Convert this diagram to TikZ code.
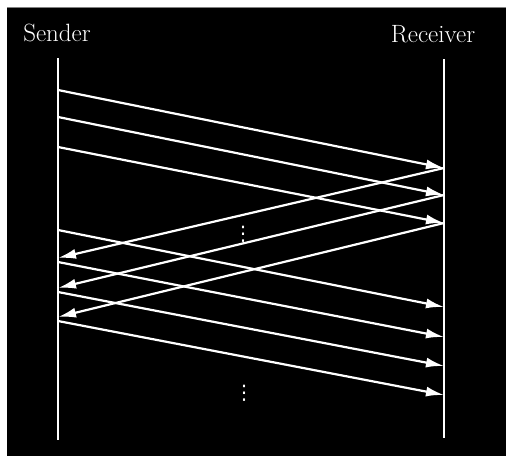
\documentclass[tikz,border=0pt]{standalone}
\usepackage{fontspec}
\newfontfamily\symfont{DejaVu Sans}
\usetikzlibrary{arrows.meta}
\begin{document}
\begin{tikzpicture}[x=1pt,y=-1pt,
  lifeline/.style={draw=white,line width=2.2pt},
  msg/.style={draw=white,line width=2.2pt,-{Latex[length=18pt,width=10pt]}},
  lbl/.style={text=white,font=\fontsize{25}{30}\selectfont,inner sep=0pt,anchor=base},
  dotsnode/.style={text=white,inner sep=0pt,font=\symfont\fontsize{20}{20}\selectfont}]
\useasboundingbox (0,0) rectangle (506,456);
\fill[white] (0,0) rectangle (506,456);
\fill[black] (7,7) rectangle (506,456);
\draw[gray,line width=0.8pt] (7,7) -- (506,7);
% labels
\node[lbl] (sender) at (57,41) {Sender};
\node[lbl] (receiver) at (433,42) {Receiver};
% lifelines
\coordinate (st) at (58,58);
\coordinate (sb) at (58,440);
\coordinate (rt) at (444,59);
\coordinate (rb) at (444,438);
\draw[lifeline] (st) -- (sb);
\draw[lifeline] (rt) -- (rb);
% sender points
\coordinate (s1) at (58,90);
\coordinate (s2) at (58,117);
\coordinate (s3) at (58,147);
\coordinate (s4) at (58,230);
\coordinate (s5) at (58,262);
\coordinate (s6) at (58,292);
\coordinate (s7) at (58,321);
\coordinate (a1) at (58,258);
\coordinate (a2) at (58,288);
\coordinate (a3) at (58,317);
% receiver points
\coordinate (r1) at (444,168);
\coordinate (r2) at (444,195);
\coordinate (r3) at (444,223);
\coordinate (r4) at (444,307);
\coordinate (r5) at (444,337);
\coordinate (r6) at (444,366);
\coordinate (r7) at (444,395);
% data
\draw[msg] (s1) -- (r1);
\draw[msg] (s2) -- (r2);
\draw[msg] (s3) -- (r3);
% acks
\draw[msg] (r1) -- (a1);
\draw[msg] (r2) -- (a2);
\draw[msg] (r3) -- (a3);
% more data
\draw[msg] (s4) -- (r4);
\draw[msg] (s5) -- (r5);
\draw[msg] (s6) -- (r6);
\draw[msg] (s7) -- (r7);
% ellipses
\node[dotsnode] (d1) at (243,234) {⋮};
\node[dotsnode] (d2) at (244,393) {⋮};
\end{tikzpicture}
\end{document}
